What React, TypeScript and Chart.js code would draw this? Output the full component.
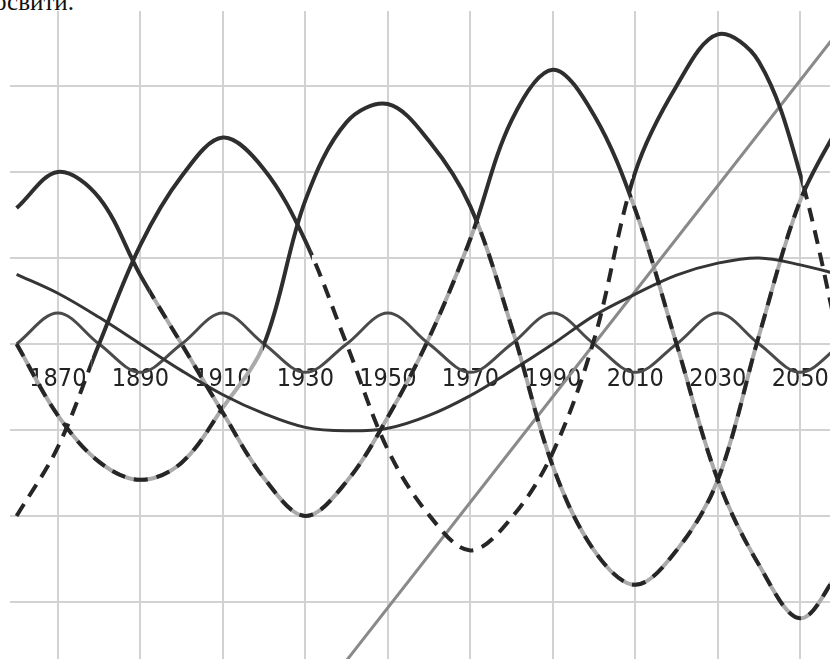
import React, { useEffect, useRef } from "react";
import { Chart, registerables } from "chart.js";

Chart.register(...registerables);

// years of the read points, every 10 years
const YEARS = [
    1860, 1870, 1880, 1890, 1900, 1910, 1920, 1930, 1940, 1950, 1960,
    1970, 1980, 1990, 2000, 2010, 2020, 2030, 2040, 2050, 2060,
];
const TICK_YEARS = [1870, 1890, 1910, 1930, 1950, 1970, 1990, 2010, 2030, 2050];
const GRID_VALUES = [-3, -2, -1, 0, 1, 2, 3];

// long wave with peaks 1870 / 1990
const WAVE_A = [
    1.58, 2.0, 1.7, 0.8, 0.0, -0.8, -1.56, -2.0, -1.6, -0.85, 0.07,
    1.22, 2.6, 3.19, 2.66, 1.56, 0.0, -1.58, -2.57, -3.19, -2.6,
];
// long wave with peaks 1950 / 2070
const WAVE_B = [
    0.0, -0.83, -1.37, -1.58, -1.38, -0.74, 0.0, 1.67, 2.58, 2.79, 2.36,
    1.6, 0.2, -1.42, -2.4, -2.8, -2.4, -1.58, 0.1, 1.67, 2.6,
];
// long wave with peaks 1910 / 2030
const WAVE_C = [
    -2.0, -1.2, 0.0, 1.15, 1.95, 2.4, 2.03, 1.2, 0.0, -1.23, -1.99,
    -2.4, -2.02, -1.26, 0.05, 2.0, 3.0, 3.6, 3.28, 1.97, -0.1,
];
// short 40-year cycle
const SHORT_WAVE = [
    0, 0.36, 0, -0.33, 0, 0.36, 0, -0.33, 0, 0.36, 0,
    -0.33, 0, 0.36, 0, -0.33, 0, 0.36, 0, -0.33, 0,
];
// secular wave
const SECULAR = [
    0.81, 0.59, 0.31, 0.0, -0.31, -0.59, -0.81, -0.97, -1.01, -0.98, -0.83,
    -0.6, -0.31, 0.0, 0.33, 0.58, 0.8, 0.94, 1.0, 0.92, 0.8,
];
// linear trend
const TREND_YEARS = [1940, 2000, 2060];
const TREND = [-3.68, 0, 3.68];

// year ranges where each wave is drawn solid / dashed / gray
const A_SOLID = [[1850, 1892.3], [1971.6, 2008.7]];
const A_LOW = [[1892.3, 1971.6], [2008.7, 2070]];
const B_SOLID = [[1919.7, 1971.6], [2051, 2070]];
const B_DASH = [[1850, 1910], [1971.6, 2051]];
const B_GRAY = [[1850, 1919.7], [1971.6, 2051]];
const C_SOLID = [[1878.2, 1931.6], [2009.2, 2050.6]];
const C_DASH = [[1850, 1878.2], [1931.6, 2009.2], [2050.6, 2070]];

const FONT = "'DejaVu Sans Condensed', 'Liberation Sans', sans-serif";

const pts = (xs: number[], ys: number[]) => xs.map((x, i) => ({ x, y: ys[i] }));

function line(data: any[], color: string, width: number, order: number,
    ranges?: number[][], dash?: number[]) {
    return {
        data,
        borderColor: color,
        borderWidth: width,
        borderDash: dash || [],
        borderCapStyle: "butt",
        borderJoinStyle: "round",
        pointRadius: 0,
        tension: 0.35,
        fill: false,
        order,
        ranges,
    };
}

// draws a dataset only inside its year ranges
const rangeClip = {
    id: "rangeClip",
    beforeDatasetDraw(chart: any, args: any) {
        const ranges = chart.data.datasets[args.index].ranges;
        if (!ranges) {
            return;
        }
        const { ctx, chartArea } = chart;
        const xs = chart.scales.x;
        ctx.save();
        ctx.beginPath();
        ranges.forEach(([a, b]: number[]) => {
            const x0 = xs.getPixelForValue(a);
            const x1 = xs.getPixelForValue(b);
            ctx.rect(x0, chartArea.top - 20, x1 - x0,
                chartArea.bottom - chartArea.top + 40);
        });
        ctx.clip();
    },
    afterDatasetDraw(chart: any, args: any) {
        if (chart.data.datasets[args.index].ranges) {
            chart.ctx.restore();
        }
    },
};

export default function App() {
    const canvas = useRef<HTMLCanvasElement>(null);

    useEffect(() => {
        const a = pts(YEARS, WAVE_A);
        const b = pts(YEARS, WAVE_B);
        const c = pts(YEARS, WAVE_C);
        const dash = [14, 9];
        const datasets: any[] = [
            line(a, "#aaaaaa", 4, 10, A_LOW),
            line(b, "#aaaaaa", 4, 10, B_GRAY),
            line(pts(TREND_YEARS, TREND), "#8a8a8a", 3, 9),
            line(pts(YEARS, SHORT_WAVE), "#4a4a4a", 3, 8),
            line(pts(YEARS, SECULAR), "#353535", 3, 7),
            line(a, "#262626", 4, 5, A_LOW, dash),
            line(b, "#262626", 4, 5, B_DASH, dash),
            line(c, "#262626", 4, 5, C_DASH, dash),
            line(a, "#2e2e2e", 4, 1, A_SOLID),
            line(b, "#2e2e2e", 4, 1, B_SOLID),
            line(c, "#2e2e2e", 4, 1, C_SOLID),
        ];
        const chart = new Chart(canvas.current!.getContext("2d")!, {
            type: "line",
            data: { datasets },
            plugins: [rangeClip],
            options: {
                animation: false,
                responsive: false,
                maintainAspectRatio: false,
                layout: {
                    autoPadding: false,
                    padding: { left: 10, top: 11, right: 0, bottom: 0 },
                },
                plugins: { legend: { display: false }, tooltip: { enabled: false } },
                scales: {
                    x: {
                        type: "linear",
                        min: 1858.4,
                        max: 2057.2,
                        position: { y: 0 },
                        afterBuildTicks: (s: any) => {
                            s.ticks = TICK_YEARS.map((v) => ({ value: v }));
                        },
                        // invisible tick marks push the labels below the axis
                        grid: {
                            color: "#d2d2d2", lineWidth: 2,
                            drawTicks: true, tickLength: 21, tickColor: "rgba(0,0,0,0)",
                        },
                        border: { display: false },
                        ticks: {
                            autoSkip: false,
                            maxRotation: 0,
                            padding: 0,
                            color: "#222222",
                            font: { family: FONT, size: 25 },
                            callback: (v: any) => String(v),
                        },
                    },
                    y: {
                        type: "linear",
                        min: -3.663,
                        max: 3.872,
                        afterBuildTicks: (s: any) => {
                            s.ticks = GRID_VALUES.map((v) => ({ value: v }));
                        },
                        afterFit: (s: any) => { s.width = 0; },
                        grid: { color: "#d2d2d2", lineWidth: 2, drawTicks: false },
                        border: { display: false },
                        ticks: { display: false },
                    },
                },
            } as any,
        });
        return () => chart.destroy();
    }, []);

    return (
        <div style={{ position: "absolute", left: 0, top: 0, width: 830, height: 659,
            overflow: "hidden", background: "#fff" }}>
            <div style={{ position: "absolute", left: -6, top: -11, fontFamily: "'Liberation Serif', serif",
                fontSize: 25, lineHeight: "25px", color: "#111", whiteSpace: "nowrap" }}>
                освити.
            </div>
            <canvas ref={canvas} width={830} height={659}
                style={{ position: "absolute", left: 0, top: 0, width: 830, height: 659 }} />
        </div>
    );
}
